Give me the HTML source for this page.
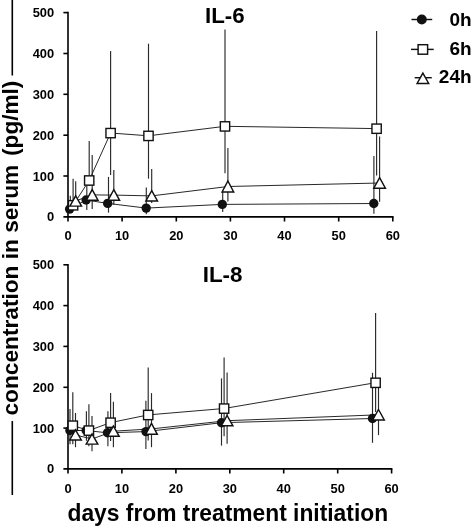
<!DOCTYPE html>
<html><head><meta charset="utf-8"><title>IL-6 / IL-8</title>
<style>html,body{margin:0;padding:0;background:#fff}svg{display:block}</style></head>
<body>
<svg width="472" height="527" viewBox="0 0 472 527" font-family="'Liberation Sans', Arial, sans-serif">
<rect width="472" height="527" fill="#fff"/>
<g stroke="#000" stroke-width="1.6"><line x1="12.3" y1="0" x2="12.3" y2="75.5"/><line x1="12.3" y1="421" x2="12.3" y2="495"/></g>
<g transform="translate(18.0,415.5) rotate(-90)" font-size="22.8" font-weight="bold"><text x="0" y="0" textLength="250.8" lengthAdjust="spacingAndGlyphs">concentration in serum</text><text x="259.6" y="0" textLength="75.2" lengthAdjust="spacingAndGlyphs">(pg/ml)</text></g>
<text x="67.5" y="521.3" font-size="23.7" font-weight="bold" textLength="320.6" lengthAdjust="spacingAndGlyphs">days from treatment initiation</text>
<text x="224.8" y="22.6" font-size="22.3" font-weight="bold" text-anchor="middle">IL-6</text>
<text x="222.6" y="281.9" font-size="22.4" font-weight="bold" text-anchor="middle">IL-8</text>
<g stroke="#000" stroke-width="1.6" fill="none"><line x1="68.0" y1="11.799999999999999" x2="68.0" y2="221.5"/><line x1="63.4" y1="216.9" x2="393.6" y2="216.9"/><line x1="63.4" y1="12.6" x2="68.0" y2="12.6"/><line x1="63.4" y1="53.5" x2="68.0" y2="53.5"/><line x1="63.4" y1="94.3" x2="68.0" y2="94.3"/><line x1="63.4" y1="135.2" x2="68.0" y2="135.2"/><line x1="63.4" y1="176.0" x2="68.0" y2="176.0"/><line x1="122.1" y1="216.9" x2="122.1" y2="221.5"/><line x1="176.3" y1="216.9" x2="176.3" y2="221.5"/><line x1="230.4" y1="216.9" x2="230.4" y2="221.5"/><line x1="284.5" y1="216.9" x2="284.5" y2="221.5"/><line x1="338.7" y1="216.9" x2="338.7" y2="221.5"/><line x1="392.8" y1="216.9" x2="392.8" y2="221.5"/></g><g font-size="12.5" font-weight="bold" fill="#000"><text x="54.2" y="17.1" text-anchor="end" textLength="21.5" lengthAdjust="spacingAndGlyphs">500</text><text x="54.2" y="58.0" text-anchor="end" textLength="21.5" lengthAdjust="spacingAndGlyphs">400</text><text x="54.2" y="98.8" text-anchor="end" textLength="21.5" lengthAdjust="spacingAndGlyphs">300</text><text x="54.2" y="139.7" text-anchor="end" textLength="21.5" lengthAdjust="spacingAndGlyphs">200</text><text x="54.2" y="180.5" text-anchor="end" textLength="21.5" lengthAdjust="spacingAndGlyphs">100</text><text x="54.2" y="221.4" text-anchor="end" textLength="7.2" lengthAdjust="spacingAndGlyphs">0</text><text x="68.0" y="240.2" text-anchor="middle" textLength="7.2" lengthAdjust="spacingAndGlyphs">0</text><text x="122.1" y="240.2" text-anchor="middle" textLength="14.3" lengthAdjust="spacingAndGlyphs">10</text><text x="176.3" y="240.2" text-anchor="middle" textLength="14.3" lengthAdjust="spacingAndGlyphs">20</text><text x="230.4" y="240.2" text-anchor="middle" textLength="14.3" lengthAdjust="spacingAndGlyphs">30</text><text x="284.5" y="240.2" text-anchor="middle" textLength="14.3" lengthAdjust="spacingAndGlyphs">40</text><text x="338.7" y="240.2" text-anchor="middle" textLength="14.3" lengthAdjust="spacingAndGlyphs">50</text><text x="392.8" y="240.2" text-anchor="middle" textLength="14.3" lengthAdjust="spacingAndGlyphs">60</text></g>
<g stroke="#000" stroke-width="1.6" fill="none"><line x1="68.0" y1="264.0" x2="68.0" y2="473.5"/><line x1="63.4" y1="468.9" x2="392.40000000000003" y2="468.9"/><line x1="63.4" y1="264.8" x2="68.0" y2="264.8"/><line x1="63.4" y1="305.6" x2="68.0" y2="305.6"/><line x1="63.4" y1="346.4" x2="68.0" y2="346.4"/><line x1="63.4" y1="387.3" x2="68.0" y2="387.3"/><line x1="63.4" y1="428.1" x2="68.0" y2="428.1"/><line x1="121.9" y1="468.9" x2="121.9" y2="473.5"/><line x1="175.9" y1="468.9" x2="175.9" y2="473.5"/><line x1="229.8" y1="468.9" x2="229.8" y2="473.5"/><line x1="283.7" y1="468.9" x2="283.7" y2="473.5"/><line x1="337.7" y1="468.9" x2="337.7" y2="473.5"/><line x1="391.6" y1="468.9" x2="391.6" y2="473.5"/></g><g font-size="12.5" font-weight="bold" fill="#000"><text x="54.2" y="269.3" text-anchor="end" textLength="21.5" lengthAdjust="spacingAndGlyphs">500</text><text x="54.2" y="310.1" text-anchor="end" textLength="21.5" lengthAdjust="spacingAndGlyphs">400</text><text x="54.2" y="350.9" text-anchor="end" textLength="21.5" lengthAdjust="spacingAndGlyphs">300</text><text x="54.2" y="391.8" text-anchor="end" textLength="21.5" lengthAdjust="spacingAndGlyphs">200</text><text x="54.2" y="432.6" text-anchor="end" textLength="21.5" lengthAdjust="spacingAndGlyphs">100</text><text x="54.2" y="473.4" text-anchor="end" textLength="7.2" lengthAdjust="spacingAndGlyphs">0</text><text x="68.0" y="492.6" text-anchor="middle" textLength="7.2" lengthAdjust="spacingAndGlyphs">0</text><text x="121.9" y="492.6" text-anchor="middle" textLength="14.3" lengthAdjust="spacingAndGlyphs">10</text><text x="175.9" y="492.6" text-anchor="middle" textLength="14.3" lengthAdjust="spacingAndGlyphs">20</text><text x="229.8" y="492.6" text-anchor="middle" textLength="14.3" lengthAdjust="spacingAndGlyphs">30</text><text x="283.7" y="492.6" text-anchor="middle" textLength="14.3" lengthAdjust="spacingAndGlyphs">40</text><text x="337.7" y="492.6" text-anchor="middle" textLength="14.3" lengthAdjust="spacingAndGlyphs">50</text><text x="391.6" y="492.6" text-anchor="middle" textLength="14.3" lengthAdjust="spacingAndGlyphs">60</text></g>
<g stroke="#2a2a2a" stroke-width="1.15" fill="none"><line x1="70.3" y1="195.7" x2="70.3" y2="213"/><line x1="86.8" y1="175.5" x2="86.8" y2="210.1"/><line x1="108.5" y1="176.9" x2="108.5" y2="212.6"/><line x1="146.3" y1="187.4" x2="146.3" y2="214.2"/><line x1="222.7" y1="190" x2="222.7" y2="212"/><line x1="373.9" y1="155.9" x2="373.9" y2="213.7"/><line x1="73.1" y1="178.8" x2="73.1" y2="210"/><line x1="89.2" y1="141" x2="89.2" y2="186"/><line x1="110.6" y1="51.1" x2="110.6" y2="175"/><line x1="148.5" y1="43.7" x2="148.5" y2="178.7"/><line x1="225" y1="29.5" x2="225" y2="173.2"/><line x1="376.6" y1="31.1" x2="376.6" y2="175.5"/><line x1="75.7" y1="181.2" x2="75.7" y2="206"/><line x1="92.2" y1="155.1" x2="92.2" y2="208.9"/><line x1="113.8" y1="170" x2="113.8" y2="204.8"/><line x1="151.7" y1="168.9" x2="151.7" y2="203"/><line x1="227.9" y1="148.1" x2="227.9" y2="201.6"/><line x1="379.6" y1="136.6" x2="379.6" y2="201.7"/></g><g stroke="#1c1c1c" stroke-width="0.95" fill="none"><polyline points="69.6,209.1 86.1,200 107.7,203.4 146.2,208.1 222.3,204.4 373.8,203.5"/><polyline points="73.1,205.2 89.2,180.4 110.6,133 148.5,135.8 225,126.3 376.6,128.6"/><polyline points="75.7,201.0 92.2,194.9 113.8,195.1 151.7,195.9 227.9,186.5 379.6,183.0"/></g><circle cx="69.6" cy="209.1" r="4.7" fill="#111"/><circle cx="86.1" cy="200" r="4.7" fill="#111"/><circle cx="107.7" cy="203.4" r="4.7" fill="#111"/><circle cx="146.2" cy="208.1" r="4.7" fill="#111"/><circle cx="222.3" cy="204.4" r="4.7" fill="#111"/><circle cx="373.8" cy="203.5" r="4.7" fill="#111"/><rect x="68.45" y="200.65" width="9.3" height="9.3" fill="#fff" stroke="#111" stroke-width="1.4"/><rect x="84.55" y="175.85" width="9.3" height="9.3" fill="#fff" stroke="#111" stroke-width="1.4"/><rect x="105.95" y="128.45" width="9.3" height="9.3" fill="#fff" stroke="#111" stroke-width="1.4"/><rect x="143.85" y="131.25" width="9.3" height="9.3" fill="#fff" stroke="#111" stroke-width="1.4"/><rect x="220.35" y="121.75" width="9.3" height="9.3" fill="#fff" stroke="#111" stroke-width="1.4"/><rect x="371.95" y="124.05" width="9.3" height="9.3" fill="#fff" stroke="#111" stroke-width="1.4"/><path d="M75.7,195.8 L81.5,206.1 L69.9,206.1 Z" fill="#fff" stroke="#111" stroke-width="1.45" stroke-linejoin="miter"/><path d="M92.2,189.6 L98.0,200.2 L86.4,200.2 Z" fill="#fff" stroke="#111" stroke-width="1.45" stroke-linejoin="miter"/><path d="M113.8,189.7 L119.6,200.3 L108.0,200.3 Z" fill="#fff" stroke="#111" stroke-width="1.45" stroke-linejoin="miter"/><path d="M151.7,190.7 L157.5,201.0 L145.89999999999998,201.0 Z" fill="#fff" stroke="#111" stroke-width="1.45" stroke-linejoin="miter"/><path d="M227.9,181.0 L233.70000000000002,191.9 L222.1,191.9 Z" fill="#fff" stroke="#111" stroke-width="1.45" stroke-linejoin="miter"/><path d="M379.6,177.7 L385.40000000000003,188.2 L373.8,188.2 Z" fill="#fff" stroke="#111" stroke-width="1.45" stroke-linejoin="miter"/>
<g stroke="#2a2a2a" stroke-width="1.15" fill="none"><line x1="70.0" y1="409.1" x2="70.0" y2="444.2"/><line x1="86.4" y1="411.2" x2="86.4" y2="440.8"/><line x1="107.9" y1="411.2" x2="107.9" y2="446.3"/><line x1="145.9" y1="400.7" x2="145.9" y2="449.1"/><line x1="221.5" y1="378.4" x2="221.5" y2="445.6"/><line x1="372.5" y1="372.8" x2="372.5" y2="442.8"/><line x1="72.8" y1="392.2" x2="72.8" y2="444.2"/><line x1="88.9" y1="404.3" x2="88.9" y2="446.3"/><line x1="110.6" y1="393" x2="110.6" y2="441"/><line x1="148.2" y1="367.4" x2="148.2" y2="440.5"/><line x1="224.1" y1="357.6" x2="224.1" y2="436.2"/><line x1="375.6" y1="313.1" x2="375.6" y2="412"/><line x1="75.5" y1="413" x2="75.5" y2="447.2"/><line x1="92" y1="416" x2="92" y2="451.3"/><line x1="113.4" y1="401.8" x2="113.4" y2="447.2"/><line x1="151.5" y1="393.1" x2="151.5" y2="447.2"/><line x1="227.1" y1="372.5" x2="227.1" y2="443.8"/><line x1="378.5" y1="380" x2="378.5" y2="435.1"/></g><g stroke="#1c1c1c" stroke-width="0.95" fill="none"><polyline points="69.9,430.5 86.2,430.5 107.5,432.8 146,431.6 221.5,422.7 372.5,418.5"/><polyline points="72.8,425.6 88.9,430.5 110.6,422.6 148.2,414.9 224.1,408.5 375.6,382.7"/><polyline points="75.5,435.0 92,439.0 113.4,431.2 151.5,428.9 227.1,420.7 378.5,414.8"/></g><circle cx="69.9" cy="430.5" r="4.7" fill="#111"/><circle cx="86.2" cy="430.5" r="4.7" fill="#111"/><circle cx="107.5" cy="432.8" r="4.7" fill="#111"/><circle cx="146" cy="431.6" r="4.7" fill="#111"/><circle cx="221.5" cy="422.7" r="4.7" fill="#111"/><circle cx="372.5" cy="418.5" r="4.7" fill="#111"/><rect x="68.15" y="421.05" width="9.3" height="9.3" fill="#fff" stroke="#111" stroke-width="1.4"/><rect x="84.25" y="425.95" width="9.3" height="9.3" fill="#fff" stroke="#111" stroke-width="1.4"/><rect x="105.95" y="418.05" width="9.3" height="9.3" fill="#fff" stroke="#111" stroke-width="1.4"/><rect x="143.55" y="410.35" width="9.3" height="9.3" fill="#fff" stroke="#111" stroke-width="1.4"/><rect x="219.45" y="403.95" width="9.3" height="9.3" fill="#fff" stroke="#111" stroke-width="1.4"/><rect x="370.95" y="378.15" width="9.3" height="9.3" fill="#fff" stroke="#111" stroke-width="1.4"/><path d="M75.5,429.8 L81.3,440.0 L69.7,440.0 Z" fill="#fff" stroke="#111" stroke-width="1.45" stroke-linejoin="miter"/><path d="M92,433.9 L97.8,444.1 L86.2,444.1 Z" fill="#fff" stroke="#111" stroke-width="1.45" stroke-linejoin="miter"/><path d="M113.4,426.0 L119.2,436.3 L107.60000000000001,436.3 Z" fill="#fff" stroke="#111" stroke-width="1.45" stroke-linejoin="miter"/><path d="M151.5,423.4 L157.3,434.3 L145.7,434.3 Z" fill="#fff" stroke="#111" stroke-width="1.45" stroke-linejoin="miter"/><path d="M227.1,415.5 L232.9,425.8 L221.29999999999998,425.8 Z" fill="#fff" stroke="#111" stroke-width="1.45" stroke-linejoin="miter"/><path d="M378.5,409.5 L384.3,420.0 L372.7,420.0 Z" fill="#fff" stroke="#111" stroke-width="1.45" stroke-linejoin="miter"/>
<g stroke="#111" stroke-width="1.45">
<line x1="411.5" y1="19.5" x2="432.2" y2="19.5"/><circle cx="421.8" cy="19.5" r="5" fill="#111" stroke="none"/>
<line x1="411" y1="49.4" x2="433.7" y2="49.4"/><rect x="418.1" y="44.7" width="9.5" height="9.5" fill="#fff"/>
<line x1="414.7" y1="77.7" x2="431.8" y2="77.7"/><path d="M422.9,73.1 L428.7,83.5 L417.1,83.5 Z" fill="#fff"/>
</g>
<g font-size="19" font-weight="bold" text-anchor="end"><text x="471.6" y="25.6">0h</text><text x="471.6" y="55">6h</text><text x="471.6" y="83.4">24h</text></g>
</svg>
</body></html>
